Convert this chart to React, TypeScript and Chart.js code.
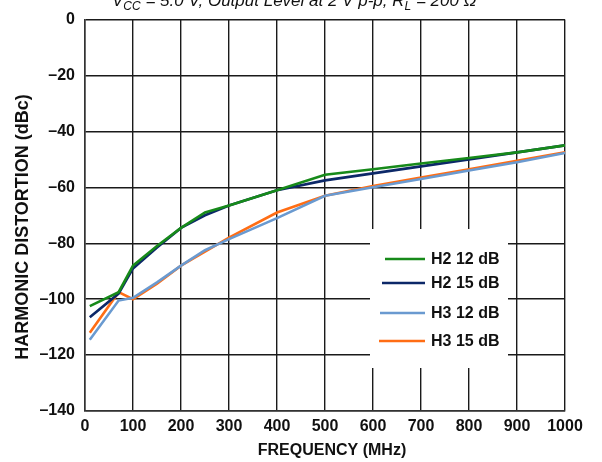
import React, { useEffect, useRef } from "react";
import { Chart, registerables } from "chart.js";

Chart.register(...registerables);

const freqs = [10, 70, 100, 150, 200, 250, 300, 400, 500, 600, 700, 800, 900, 1000];
const h2_12 = [-102.5, -97.5, -88, -81, -74.5, -69, -66.5, -61, -55.5, -53.5, -51.5, -49.5, -47.5, -45];
const h2_15 = [-106.5, -98, -89, -81.5, -74.5, -70, -66.5, -61, -57.5, -55, -52.5, -50, -47.5, -45];
const h3_12 = [-114.5, -100.5, -99.5, -94, -88, -82.5, -78.5, -71, -63, -60, -57, -54, -51, -47.7];
const h3_15 = [-112, -97.5, -100, -94.5, -88, -83, -78, -69, -63, -59.5, -56.5, -53.5, -50.5, -47.5];

const seriesNames = ["H2 12 dB", "H2 15 dB", "H3 12 dB", "H3 15 dB"];
const seriesColors = ["#178a1a", "#0c2868", "#6a9ad0", "#ff6d14"];
const seriesValues = [h2_12, h2_15, h3_12, h3_15];

const xTitle = "FREQUENCY (MHz)";
const yTitle = "HARMONIC DISTORTION (dBc)";

const FONT = "'Liberation Sans', Arial, sans-serif";

const overlayPlugin = {
  id: "overlay",
  beforeDatasetsDraw(chart: any) {
    const ctx = chart.ctx;
    ctx.save();
    ctx.fillStyle = "#ffffff";
    ctx.fillRect(370, 229, 138, 139);
    ctx.restore();
  },
  afterDraw(chart: any) {
    const ctx = chart.ctx;
    ctx.save();
    // legend
    const rows = [259, 283, 313, 341];
    const starts = [385, 382, 380, 379];
    ctx.font = `bold 16px ${FONT}`;
    ctx.textBaseline = "middle";
    ctx.textAlign = "left";
    rows.forEach((y, i) => {
      ctx.strokeStyle = seriesColors[i];
      ctx.lineWidth = 2.5;
      ctx.beginPath();
      ctx.moveTo(starts[i], y);
      ctx.lineTo(425, y);
      ctx.stroke();
      ctx.fillStyle = "#111";
      ctx.fillText(seriesNames[i], 431, y + 1);
    });
    // axis titles
    ctx.font = `bold 16px ${FONT}`;
    ctx.textAlign = "center";
    ctx.fillText(xTitle, 332, 451);
    ctx.save();
    ctx.translate(23, 227);
    ctx.rotate(-Math.PI / 2);
    ctx.font = `bold 18px ${FONT}`;
    ctx.fillText(yTitle, 0, 0);
    ctx.restore();
    // top (clipped) title
    ctx.textBaseline = "alphabetic";
    ctx.textAlign = "left";
    const parts: [string, boolean][] = [
      ["V", false], ["CC", true], [" = 5.0 V, Output Level at 2 V p-p, R", false], ["L", true], [" = 200 Ω", false],
    ];
    let x = 112;
    const base = 6;
    parts.forEach(([t, sub]) => {
      ctx.font = sub ? `italic 12px ${FONT}` : `italic 17px ${FONT}`;
      ctx.fillText(t, x, sub ? base + 4 : base);
      x += ctx.measureText(t).width;
    });
    ctx.restore();
  },
};

export default function App() {
  const ref = useRef<HTMLCanvasElement>(null);
  useEffect(() => {
    document.body.style.margin = "0";
    const chart = new Chart(ref.current!, {
      type: "line",
      data: {
        datasets: seriesValues.map((vals, i) => ({
          label: seriesNames[i],
          data: freqs.map((f, j) => ({ x: f, y: vals[j] })),
          borderColor: seriesColors[i],
          backgroundColor: seriesColors[i],
          borderWidth: 2.6,
          pointRadius: 0,
          tension: 0,
          fill: false,
        })),
      },
      options: {
        animation: false,
        responsive: false,
        layout: { padding: { top: 17, right: 37, left: 0, bottom: 0 } },
        plugins: { legend: { display: false }, title: { display: false }, tooltip: { enabled: false } },
        scales: {
          x: {
            type: "linear",
            min: 0,
            max: 1000,
            ticks: {
              stepSize: 100,
              padding: 6,
              color: "#111",
              font: { family: FONT, size: 16, weight: "bold" },
              maxRotation: 0,
              callback: (v: any) => String(v),
            },
            grid: { color: "#1a1a1a", lineWidth: 1.4, drawTicks: false },
            border: { color: "#333", width: 1.5 },
            afterFit: (s: any) => { s.height = 51; },
          },
          y: {
            min: -140,
            max: 0,
            ticks: {
              stepSize: 20,
              padding: 10,
              color: "#111",
              font: { family: FONT, size: 16, weight: "bold" },
              callback: (v: any) => (v === 0 ? "0" : "–" + Math.abs(v)),
            },
            grid: { color: "#1a1a1a", lineWidth: 1.4, drawTicks: false },
            border: { color: "#333", width: 1.5 },
            afterFit: (s: any) => { s.width = 85; },
          },
        },
      },
      plugins: [overlayPlugin],
    });
    return () => chart.destroy();
  }, []);
  return (
    <div style={{ position: "absolute", left: 0, top: 0, width: 602, height: 462, background: "#fff" }}>
      <canvas ref={ref} width={602} height={462} style={{ width: 602, height: 462 }} />
    </div>
  );
}
